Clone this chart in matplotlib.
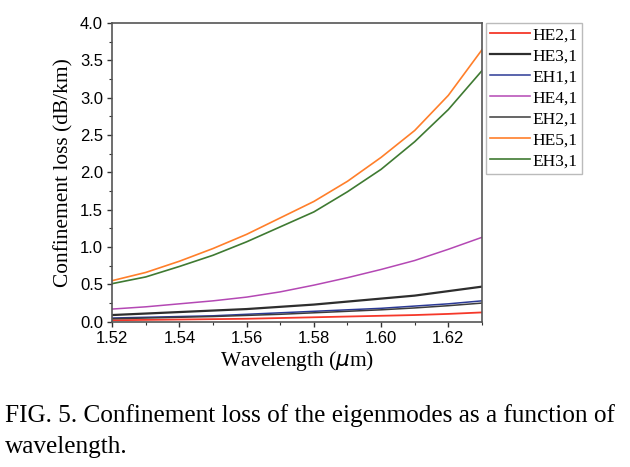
import numpy as np
import matplotlib
matplotlib.use("Agg")
import matplotlib.pyplot as plt
from matplotlib.ticker import MultipleLocator, FormatStrFormatter

wavelength = [1.52, 1.53, 1.54, 1.55, 1.56, 1.57, 1.58, 1.59, 1.60, 1.61, 1.62, 1.63]
he21 = [0.02, 0.025, 0.03, 0.035, 0.04, 0.05, 0.06, 0.07, 0.08, 0.09, 0.105, 0.125]
he31 = [0.09, 0.11, 0.13, 0.15, 0.17, 0.20, 0.23, 0.27, 0.31, 0.35, 0.41, 0.47]
eh11 = [0.05, 0.06, 0.07, 0.08, 0.10, 0.12, 0.14, 0.16, 0.18, 0.21, 0.24, 0.28]
he41 = [0.17, 0.20, 0.24, 0.28, 0.33, 0.40, 0.49, 0.59, 0.70, 0.82, 0.97, 1.13]
eh21 = [0.04, 0.05, 0.06, 0.07, 0.085, 0.10, 0.12, 0.14, 0.16, 0.185, 0.215, 0.25]
he51 = [0.55, 0.66, 0.81, 0.98, 1.17, 1.39, 1.61, 1.88, 2.20, 2.56, 3.03, 3.64]
eh31 = [0.51, 0.60, 0.74, 0.89, 1.07, 1.27, 1.47, 1.74, 2.04, 2.41, 2.84, 3.36]

labels = ["HE2,1", "HE3,1", "EH1,1", "HE4,1", "EH2,1", "HE5,1", "EH3,1"]
series = [he21, he31, eh11, he41, eh21, he51, eh31]
colors = ["#f5382a", "#2e2e2e", "#2c3a96", "#b448b4", "#3c3c3c", "#ff7f2a", "#3f7a32"]
widths = [1.3, 1.6, 1.1, 1.1, 1.1, 1.2, 1.2]

serif = "Liberation Serif"
sans = "Liberation Sans"

fig = plt.figure(figsize=(6.3, 4.67), dpi=100)
ax = fig.add_axes([0.178, 0.311, 0.587, 0.640])

for y, lab, c, w in zip(series, labels, colors, widths):
    ax.plot(wavelength, y, color=c, lw=w, label=lab)

ax.set_xlim(1.52, 1.63)
ax.set_ylim(0, 4.0)
ax.xaxis.set_major_locator(MultipleLocator(0.02))
ax.xaxis.set_minor_locator(MultipleLocator(0.01))
ax.yaxis.set_major_locator(MultipleLocator(0.5))
ax.yaxis.set_minor_locator(MultipleLocator(0.25))
ax.xaxis.set_major_formatter(FormatStrFormatter("%.2f"))
ax.yaxis.set_major_formatter(FormatStrFormatter("%.1f"))
ax.tick_params(which="major", direction="out", length=3.5, width=1, color="#333333",
               labelsize=12, pad=3)
ax.tick_params(which="minor", direction="out", length=2.2, width=0.8, color="#333333")
for lab in ax.get_xticklabels() + ax.get_yticklabels():
    lab.set_fontfamily(sans)
for s in ax.spines.values():
    s.set_color("#555555")
    s.set_linewidth(1.2)

ax.set_xlabel("Wavelength ($\\mu$m)", fontfamily=serif, fontsize=15.4, labelpad=2)
ax.set_ylabel("Confinement loss (dB/km)", fontfamily=serif, fontsize=15.4, labelpad=5)

leg = ax.legend(loc="upper left", bbox_to_anchor=(1.01, 1.0), frameon=True,
                fancybox=False, prop={"family": serif, "size": 12.5},
                handlelength=2.3, handletextpad=0.15, borderpad=0.25,
                labelspacing=0.28, borderaxespad=0.0)
leg.get_frame().set_edgecolor("#aaaaaa")
leg.get_frame().set_linewidth(1.0)

fig.text(0.008, 0.097, "FIG. 5. Confinement loss of the eigenmodes as a function of",
         fontfamily=serif, fontsize=18.2, va="baseline", ha="left")
fig.text(0.008, 0.030, "wavelength.", fontfamily=serif, fontsize=18.2,
         va="baseline", ha="left")

fig.savefig("out.png", dpi=100)
